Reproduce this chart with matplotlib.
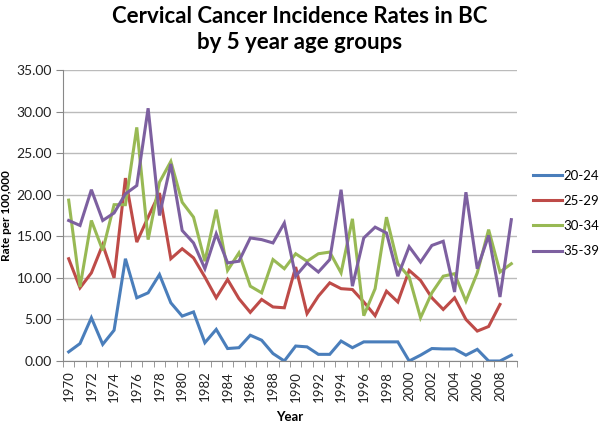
import numpy as np
import matplotlib
matplotlib.use("Agg")
import matplotlib.pyplot as plt
from matplotlib.ticker import FixedLocator

plt.rcParams['font.family'] = ['Lato', 'DejaVu Sans']

# data
years = list(range(1970, 2010))

rate_20_24 = [1.1, 2.1, 5.2, 2.0, 3.7, 12.3, 7.6, 8.2, 10.4, 7.0,
              5.4, 5.9, 2.2, 3.8, 1.5, 1.6, 3.1, 2.5, 0.9, 0.0,
              1.8, 1.7, 0.8, 0.8, 2.4, 1.6, 2.3, 2.3, 2.3, 2.3,
              0.0, 0.7, 1.5, 1.45, 1.45, 0.7, 1.4, 0.0, 0.0, 0.7]

rate_25_29 = [12.3, 8.8, 10.6, 14.0, 10.0, 22.0, 14.3, 17.3, 20.2, 12.3,
              13.5, 12.4, 10.1, 7.6, 9.8, 7.5, 5.85, 7.4, 6.5, 6.4,
              11.3, 5.7, 7.8, 9.4, 8.7, 8.6, 7.1, 5.45, 8.4, 7.1,
              10.9, 9.7, 7.6, 6.2, 7.6, 5.0, 3.6, 4.15, 6.8, np.nan]

rate_30_34 = [19.35, 8.9, 16.9, 13.3, 18.8, 18.8, 28.1, 14.6, 21.5, 24.0,
              19.1, 17.3, 12.0, 18.2, 10.9, 13.0, 9.0, 8.2, 12.2, 11.1,
              12.9, 12.0, 12.9, 13.1, 10.6, 17.1, 5.45, 8.7, 17.3, 11.7,
              10.1, 5.2, 8.2, 10.2, 10.5, 7.2, 10.6, 15.8, 10.7, 11.7]

rate_35_39 = [16.9, 16.3, 20.6, 16.9, 17.8, 20.1, 21.1, 30.4, 17.5, 23.7,
              15.7, 14.2, 11.1, 15.3, 11.8, 12.0, 14.8, 14.6, 14.2, 16.6,
              10.2, 11.8, 10.7, 12.2, 20.6, 9.0, 14.8, 16.1, 15.4, 10.2,
              13.75, 11.9, 13.9, 14.4, 8.3, 20.3, 11.1, 15.1, 7.7, 17.0]

labels = ['20-24', '25-29', '30-34', '35-39']
colors = ['#4A7EBB', '#BE4B48', '#98B954', '#7D60A0']
series = [rate_20_24, rate_25_29, rate_30_34, rate_35_39]

fig = plt.figure(figsize=(6, 4.26), dpi=100)
ax = fig.add_axes([63 / 600, 1 - 361 / 426, (517 - 63) / 600, (361 - 70) / 426])

for vals, lab, col in zip(series, labels, colors):
    ax.plot(years, vals, color=col, lw=2.2, label=lab, solid_joinstyle='miter')

ax.set_xlim(1969.5, 2009.5)
ax.set_ylim(0, 35)
ax.set_yticks(np.arange(0, 36, 5))
ax.set_yticklabels(['%.2f' % v for v in np.arange(0, 36, 5)], fontsize=10, color='#222222')
ax.yaxis.grid(True, color='#BBBBBB', lw=1)
ax.set_axisbelow(True)

ax.set_xticks(years[::2])
ax.set_xticklabels([str(y) for y in years[::2]], rotation=90, fontsize=9.5, color='#222222')
ax.tick_params(axis='x', length=0, pad=7)
ax.xaxis.set_minor_locator(FixedLocator(np.arange(1969.5, 2010, 1)))
ax.tick_params(axis='x', which='minor', length=4, color='#888888')
ax.tick_params(axis='y', length=5, color='#888888', pad=3)

for s in ['top', 'right']:
    ax.spines[s].set_visible(False)
for s in ['left', 'bottom']:
    ax.spines[s].set_color('#888888')

ax.set_xlabel('Year', fontsize=9.5, fontweight='bold', labelpad=7)
ax.set_ylabel('Rate per 100,000', fontsize=8.5, fontweight='bold')
ax.yaxis.set_label_coords((12 - 63) / 454, 0.5)

fig.text(0.5, 0.985, 'Cervical Cancer Incidence Rates in BC\nby 5 year age groups',
         ha='center', va='top', fontsize=16, fontweight='bold', linespacing=1.25)

leg = fig.legend(loc='center left', bbox_to_anchor=(533 / 600, 1 - 213.5 / 426), frameon=False,
                 fontsize=9.5, handlelength=2.2, handletextpad=0.1, labelspacing=1.0,
                 borderpad=0, borderaxespad=0)

fig.savefig('out.png', dpi=100)
